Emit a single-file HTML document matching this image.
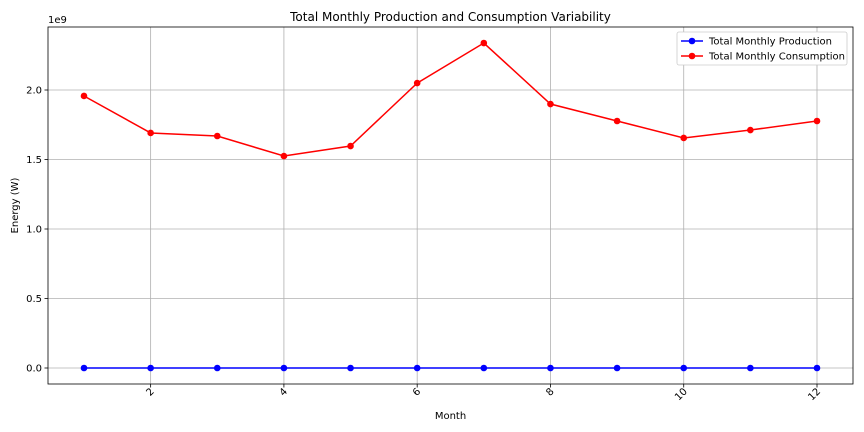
<!DOCTYPE html>
<html><head><meta charset="utf-8"><style>
body{margin:0;background:#fff}
svg{display:block;font-family:"DejaVu Sans","Liberation Sans",sans-serif}
</style></head><body>
<svg id="chart" width="864" height="432"></svg>
<script>
const months=[1,2,3,4,5,6,7,8,9,10,11,12];
const production=[0,0,0,0,0,0,0,0,0,0,0,0];
const consumption=[1.957,1.691,1.669,1.525,1.597,2.050,2.338,1.899,1.777,1.655,1.712,1.777];
const xTicks=[2,4,6,8,10,12];
const yTicks=[0,0.5,1.0,1.5,2.0];
const yTickLabels=["0.0","0.5","1.0","1.5","2.0"];
const L=48,R=853,T=27,B=384;
const xs=m=>84+(m-1)*(817-84)/11;
const ys=v=>368-v*139;
const svg=document.getElementById('chart');
const NS='http://www.w3.org/2000/svg';
function mk(t,a,txt){const e=document.createElementNS(NS,t);for(const k in a)e.setAttribute(k,a[k]);if(txt!==undefined)e.textContent=txt;svg.appendChild(e);return e;}
let e;
e=mk('rect',{x:L,y:T,width:R-L,height:B-T,fill:'#fff'});


xTicks.forEach(t=>{
 e=mk('line',{x1:xs(t),x2:xs(t),y1:T,y2:B,stroke:'#b0b0b0','stroke-width':0.8});
 
 
 mk('line',{x1:xs(t),x2:xs(t),y1:B,y2:B+3.5,stroke:'#000','stroke-width':0.8});
 e=mk('text',{x:0,y:0,'font-size':10,'text-anchor':'end',transform:`translate(${xs(t)+4},${B+8}) rotate(-45)`},t);
 
 
});
yTicks.forEach((t,i)=>{
 e=mk('line',{x1:L,x2:R,y1:ys(t),y2:ys(t),stroke:'#b0b0b0','stroke-width':0.8});
 
 
 mk('line',{x1:L-3.5,x2:L,y1:ys(t),y2:ys(t),stroke:'#000','stroke-width':0.8});
 e=mk('text',{x:L-6,y:ys(t)+3.5,'font-size':10,'text-anchor':'end'},yTickLabels[i]);
 
 
});
e=mk('rect',{x:L,y:T,width:R-L,height:B-T,fill:'none',stroke:'#000','stroke-width':0.8});


function series(vals,color,name){
 e=mk('polyline',{points:vals.map((v,i)=>xs(months[i])+','+ys(v)).join(' '),fill:'none',stroke:color,'stroke-width':1.5});
 
 
 vals.forEach((v,i)=>{
  e=mk('circle',{cx:xs(months[i]),cy:ys(v),r:3.3,fill:color});
  
  
 });
}
series(production,'#0000ff','production');
series(consumption,'#ff0000','consumption');
e=mk('text',{x:(L+R)/2,y:21,'font-size':12,'text-anchor':'middle'},'Total Monthly Production and Consumption Variability');


e=mk('text',{x:(L+R)/2,y:419,'font-size':10,'text-anchor':'middle'},'Month');


e=mk('text',{x:0,y:0,'font-size':10,'text-anchor':'middle',transform:`translate(18,${(T+B)/2}) rotate(-90)`},'Energy (W)');


e=mk('text',{x:48,y:23,'font-size':10},'1e9');


e=mk('rect',{x:677,y:32,width:170,height:33,rx:2,fill:'#fff',stroke:'#ccc','stroke-width':0.8});


[['Total Monthly Production','#0000ff',41],['Total Monthly Consumption','#ff0000',56]].forEach(([lab,c,y])=>{
 mk('line',{x1:681,x2:703,y1:y,y2:y,stroke:c,'stroke-width':1.5});
 mk('circle',{cx:692,cy:y,r:3.3,fill:c});
 e=mk('text',{x:709,y:y+3.5,'font-size':10},lab);
 
 
});
</script>
</body></html>
